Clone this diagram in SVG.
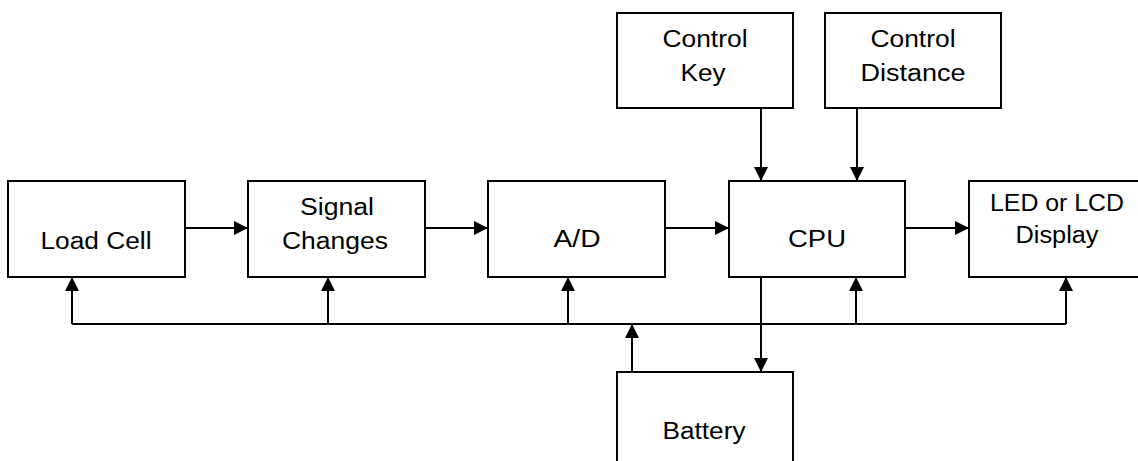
<svg xmlns="http://www.w3.org/2000/svg" width="1138" height="461" viewBox="0 0 1138 461">
<style>
.box{fill:#fff;stroke:#000;stroke-width:2}
.t{font-family:"Liberation Sans",Arial,sans-serif;font-size:23px;fill:#000;text-anchor:middle}
.c{fill:none;stroke:#000;stroke-width:2}
</style>
<defs>
<marker id="ah" viewBox="0 0 14 14" refX="14" refY="7" markerWidth="14" markerHeight="14" markerUnits="userSpaceOnUse" orient="auto">
<path d="M0,0 L14,7 L0,14 Z" fill="#000"/>
</marker>
</defs>
<rect width="1138" height="461" fill="#fff"/>
<g id="load-cell"><rect class="box" x="8" y="181" width="177" height="96"/><text class="t" x="96" y="249" textLength="111" lengthAdjust="spacingAndGlyphs">Load Cell</text></g>
<g id="signal-changes"><rect class="box" x="248" y="181" width="177" height="96"/><text class="t" x="337" y="215" textLength="74" lengthAdjust="spacingAndGlyphs">Signal</text><text class="t" x="335" y="249" textLength="106" lengthAdjust="spacingAndGlyphs">Changes</text></g>
<g id="ad"><rect class="box" x="488" y="181" width="177" height="96"/><text class="t" x="577" y="247" textLength="47" lengthAdjust="spacingAndGlyphs">A/D</text></g>
<g id="cpu"><rect class="box" x="729" y="181" width="176" height="96"/><text class="t" x="817" y="247" textLength="58" lengthAdjust="spacingAndGlyphs">CPU</text></g>
<g id="display"><rect class="box" x="969" y="181" width="180" height="96"/><text class="t" x="1057" y="211" textLength="134" lengthAdjust="spacingAndGlyphs">LED or LCD</text><text class="t" x="1057" y="243" textLength="83" lengthAdjust="spacingAndGlyphs">Display</text></g>
<g id="control-key"><rect class="box" x="617" y="13" width="176" height="95"/><text class="t" x="705" y="47" textLength="85" lengthAdjust="spacingAndGlyphs">Control</text><text class="t" x="703" y="81" textLength="45" lengthAdjust="spacingAndGlyphs">Key</text></g>
<g id="control-distance"><rect class="box" x="825" y="13" width="176" height="95"/><text class="t" x="913" y="47" textLength="85" lengthAdjust="spacingAndGlyphs">Control</text><text class="t" x="913" y="81" textLength="105" lengthAdjust="spacingAndGlyphs">Distance</text></g>
<g id="battery"><rect class="box" x="617" y="372" width="176" height="100"/><text class="t" x="704" y="439" textLength="83" lengthAdjust="spacingAndGlyphs">Battery</text></g>
<g id="connectors">
<line class="c" x1="185" y1="228" x2="248" y2="228" marker-end="url(#ah)"/>
<line class="c" x1="425" y1="228" x2="488" y2="228" marker-end="url(#ah)"/>
<line class="c" x1="665" y1="228" x2="729" y2="228" marker-end="url(#ah)"/>
<line class="c" x1="905" y1="228" x2="969" y2="228" marker-end="url(#ah)"/>
<line class="c" x1="761" y1="108" x2="761" y2="181" marker-end="url(#ah)"/>
<line class="c" x1="857" y1="108" x2="857" y2="181" marker-end="url(#ah)"/>
<line class="c" x1="761" y1="277" x2="761" y2="372" marker-end="url(#ah)"/>
<polyline class="c" points="1066,324 72,324"/>
<line class="c" x1="72" y1="324" x2="72" y2="277" marker-end="url(#ah)"/>
<line class="c" x1="328" y1="324" x2="328" y2="277" marker-end="url(#ah)"/>
<line class="c" x1="568" y1="324" x2="568" y2="277" marker-end="url(#ah)"/>
<line class="c" x1="856" y1="324" x2="856" y2="277" marker-end="url(#ah)"/>
<line class="c" x1="1066" y1="324" x2="1066" y2="277" marker-end="url(#ah)"/>
<line class="c" x1="632" y1="372" x2="632" y2="324" marker-end="url(#ah)"/>
</g>
</svg>
